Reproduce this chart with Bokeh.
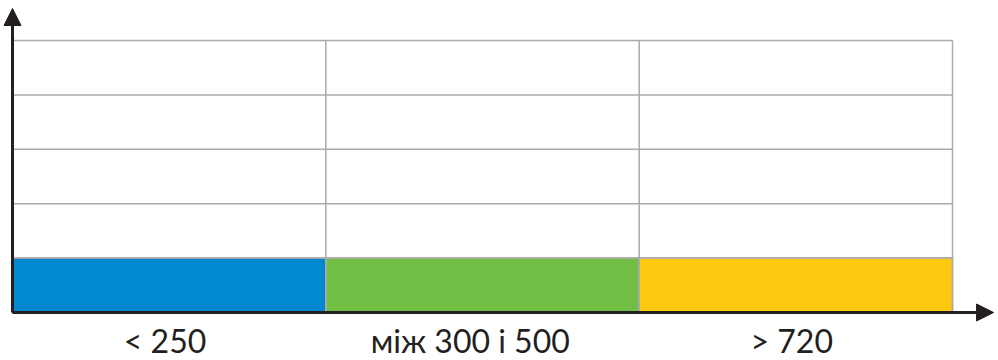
from bokeh.plotting import figure
from bokeh.models import Range1d, Arrow, NormalHead, ColumnDataSource
from bokeh.core.properties import value
from bokeh.embed import file_html
from bokeh.resources import INLINE

categories = ["<  250", "між  300  і  500", ">  720"]
values = [1, 1, 1]
colors = ["#0288d1", "#70bf44", "#fdc90f"]
y_max = 5

n = len(categories)
idx = list(range(n))

p = figure(width=998, height=360, output_backend="svg", toolbar_location=None,
           x_axis_location=None, y_axis_location=None, min_border=0,
           x_range=Range1d(-0.0383, 3.1468), y_range=Range1d(-0.882, 5.735))
p.outline_line_color = None
p.grid.visible = False

src = ColumnDataSource(dict(left=[i for i in idx], right=[i + 1 for i in idx],
                            top=values, bottom=[0] * n, color=colors,
                            xc=[i + 0.5 for i in idx], label=categories))
p.quad(left="left", right="right", top="top", bottom="bottom", fill_color="color",
       line_color="#a9a9a9", line_width=1.5, source=src)

# grid lines
hy = list(range(1, y_max + 1))
p.segment(x0=[0] * len(hy), x1=[n] * len(hy), y0=hy, y1=hy,
          line_color="#ababab", line_width=1.5)
vx = list(range(0, n + 1))
p.segment(x0=vx, x1=vx, y0=[0] * len(vx), y1=[y_max] * len(vx),
          line_color="#ababab", line_width=1.5)

p.add_layout(Arrow(end=NormalHead(size=17, fill_color="#231f20", line_color="#231f20"),
                   x_start=0, y_start=0, x_end=3.131, y_end=0,
                   line_color="#231f20", line_width=3))
p.add_layout(Arrow(end=NormalHead(size=17, fill_color="#231f20", line_color="#231f20"),
                   x_start=0, y_start=0, x_end=0, y_end=5.588,
                   line_color="#231f20", line_width=3))

p.text(x="xc", y=-0.52, text="label", source=src, text_align="center",
       text_baseline="middle", text_font=value("Lato"), text_font_size="32px",
       text_color="#231f20")

open("out.html", "w").write(file_html(p, INLINE))
